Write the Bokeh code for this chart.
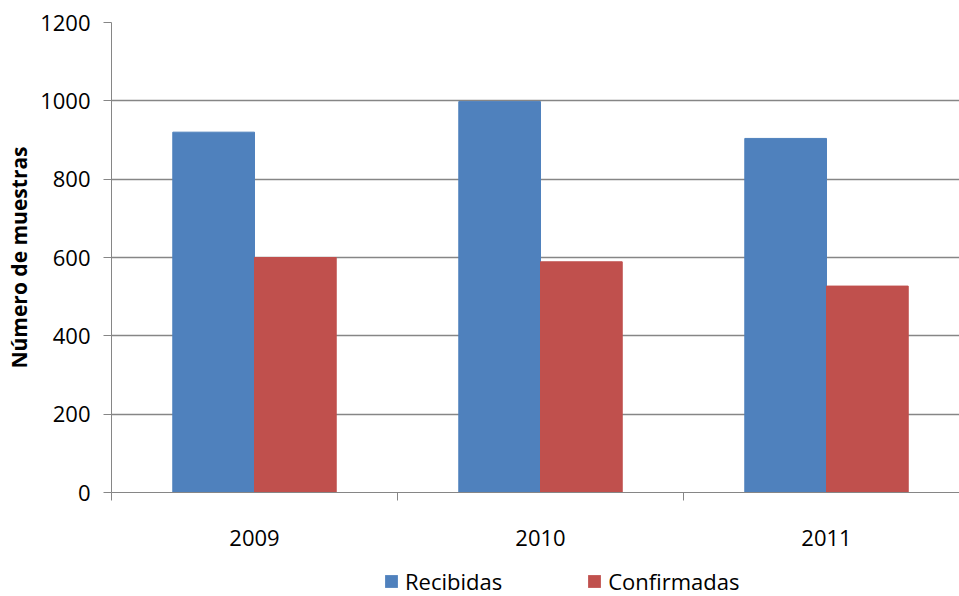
from bokeh.plotting import figure
from bokeh.layouts import column
from bokeh.models import FixedTicker, Legend, LegendItem, Range1d, ColumnDataSource
from bokeh.transform import dodge
from bokeh.embed import file_html
from bokeh.resources import INLINE

# Samples received and confirmed per year
years = ["2009", "2010", "2011"]
recibidas = [920, 998, 904]
confirmadas = [600, 589, 527]
y_ticks = [0, 200, 400, 600, 800, 1000, 1200]

BLUE = "#4F81BD"
RED = "#C0504D"
GRID = "#868686"
FONT = "Open Sans"

centers = [i + 0.5 for i in range(len(years))]
bar_w = 1 / 3.5  # two bars plus a 150% gap per category

src = ColumnDataSource(dict(x=centers, rec=recibidas, conf=confirmadas))

p = figure(width=959, height=560, output_backend="svg", toolbar_location=None,
           x_range=Range1d(0, 2.965), y_range=Range1d(0, 1200),
           min_border_left=111, min_border_right=0, min_border_top=22,
           min_border_bottom=68)
p.outline_line_color = None
p.background_fill_color = "white"
p.border_fill_color = "white"

p.vbar(x=dodge("x", -bar_w / 2, range=p.x_range), top="rec", width=bar_w,
       source=src, fill_color=BLUE, line_color=BLUE)
p.vbar(x=dodge("x", bar_w / 2, range=p.x_range), top="conf", width=bar_w,
       source=src, fill_color=RED, line_color=RED)

# x axis: labels at category centres, tick marks at category boundaries
p.xaxis.ticker = FixedTicker(ticks=centers,
                             minor_ticks=list(range(len(years) + 1)))
p.xaxis.major_label_overrides = {c: y for c, y in zip(centers, years)}
p.xaxis.major_tick_out = 0
p.xaxis.major_tick_in = 0
p.xaxis.minor_tick_out = 8
p.xaxis.minor_tick_in = 0
p.xaxis.minor_tick_line_color = GRID
p.xaxis.axis_line_color = GRID
p.xaxis.major_label_standoff = 29
p.xaxis.major_label_text_font = FONT
p.xaxis.major_label_text_font_size = "22px"
p.xaxis.major_label_text_color = "black"
p.xgrid.grid_line_color = None

p.yaxis.ticker = FixedTicker(ticks=y_ticks)
p.yaxis.minor_tick_line_color = None
p.yaxis.major_tick_out = 8
p.yaxis.major_tick_in = 0
p.yaxis.major_tick_line_color = GRID
p.yaxis.axis_line_color = GRID
p.yaxis.major_label_standoff = 13
p.yaxis.major_label_text_font = FONT
p.yaxis.major_label_text_font_size = "22px"
p.yaxis.major_label_text_color = "black"
p.yaxis.axis_label = "Número de muestras"
p.yaxis.axis_label_text_font = FONT
p.yaxis.axis_label_text_font_size = "21px"
p.yaxis.axis_label_text_font_style = "bold"
p.yaxis.axis_label_text_color = "black"
p.yaxis.axis_label_standoff = 4
p.ygrid.grid_line_color = GRID
p.ygrid.grid_line_width = 1.5

# legend strip underneath the chart; its bars lie far outside the visible range
leg = figure(width=959, height=36, output_backend="svg", toolbar_location=None,
             x_range=p.x_range, y_range=Range1d(5000, 5010),
             min_border=0, min_border_left=0, min_border_right=0,
             min_border_top=0, min_border_bottom=0,
             x_axis_type=None, y_axis_type=None)
leg.outline_line_color = None
leg.xgrid.grid_line_color = None
leg.ygrid.grid_line_color = None
l1 = leg.vbar(x=dodge("x", -bar_w / 2, range=leg.x_range), top="rec",
              width=bar_w, source=src, fill_color=BLUE, line_color=None)
l2 = leg.vbar(x=dodge("x", bar_w / 2, range=leg.x_range), top="conf",
              width=bar_w, source=src, fill_color=RED, line_color=None)

legend = Legend(items=[LegendItem(label="Recibidas", renderers=[l1]),
                       LegendItem(label="Confirmadas", renderers=[l2])],
                orientation="horizontal", location=(272, 0),
                label_text_font=FONT, label_text_font_size="22px",
                label_text_color="black", glyph_width=16, glyph_height=16,
                label_standoff=6, spacing=84, border_line_color=None,
                background_fill_alpha=0, padding=0, margin=0)
leg.add_layout(legend)

open("out.html", "w").write(file_html(column(p, leg, spacing=0), INLINE))
